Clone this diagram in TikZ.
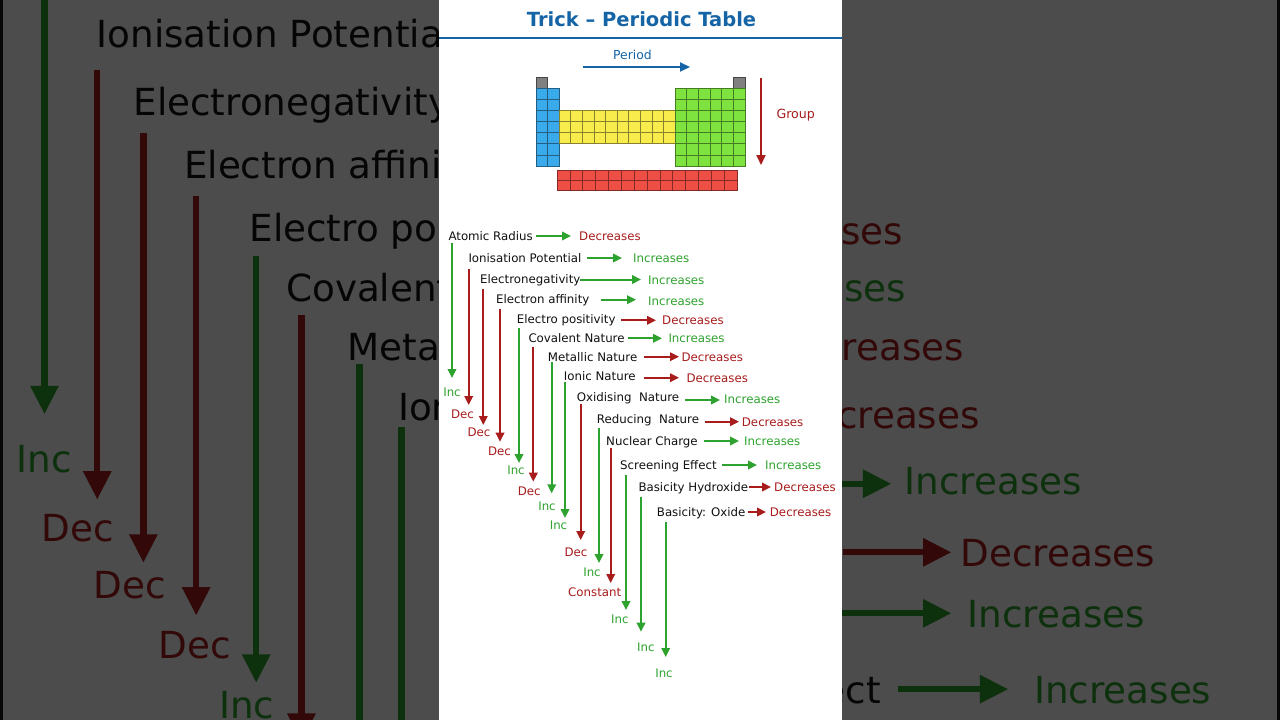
\documentclass[tikz,border=0pt]{standalone}
\usepackage{fontspec}
\setmainfont{DejaVu Sans}
\usetikzlibrary{arrows.meta}
\definecolor{tgreen}{HTML}{2EA22E}
\definecolor{tred}{HTML}{A81C1C}
\definecolor{tblue}{HTML}{1565A6}
\definecolor{tink}{HTML}{111111}
\definecolor{cblue}{HTML}{3AAAEC}
\definecolor{cyellow}{HTML}{F8EC4C}
\definecolor{cgreen}{HTML}{7EE33F}
\definecolor{cred}{HTML}{EE4F45}
\definecolor{cgray}{HTML}{808080}
\def\lsc{1}
\tikzset{
  ptxt/.style={anchor=base west, inner sep=0pt, text=tink, font=\fontsize{11.8}{14}\selectfont},
  rtxt/.style={anchor=base west, inner sep=0pt, text=#1, font=\fontsize{11.8}{14}\selectfont},
  ltxt/.style={anchor=base, inner sep=0pt, text=#1, font=\fontsize{11.8}{14}\selectfont},
  harr/.style={draw=#1, line width=\lsc*2pt, -{Triangle[length=9pt,width=8.5pt,scale=\lsc]}},
  cellbox/.style={draw=#1!55!black, fill=#1, line width=0.6pt},
  bigarr/.style={draw=#1, line width=2pt, -{Triangle[length=10pt,width=9pt]}}
}
\newcommand\pprop[4]{\node[ptxt] (p#1) at (#2,#3+4.4) {#4};}
\newcommand\pres[9]{%
  \coordinate (hs#1) at (#3,#5);
  \coordinate (he#1) at (#4,#5);
  \draw[harr=#2] (hs#1) -- (he#1);
  \node[rtxt=#6] (r#1) at (#7,#8+4.4) {#9};}
\newcommand\pvert[8]{%
  \coordinate (vs#1) at (#3,#4);
  \coordinate (ve#1) at (#3,#5);
  \draw[harr=#2] (vs#1) -- (ve#1);
  \node[ltxt=#2] (l#1) at (#6,#7+4.4) {#8};}
\newcommand\cells[7]{%
  \foreach \i in {1,...,#3} {\foreach \j in {1,...,#4} {%
    \draw[cellbox=#7] ({#1+(\i-1)*#5},{#2+(\j-1)*#6}) rectangle ++(#5,#6);}}}
\newcommand\listcontent{%
\pprop{1}{448.3}{236}{Atomic Radius}
\pres{1}{tgreen}{536}{571}{236}{tred}{579}{236}{Decreases}
\pvert{1}{tgreen}{452}{243}{378}{452}{392}{Inc}
\pprop{2}{468.3}{257.7}{Ionisation Potential}
\pres{2}{tgreen}{587}{622}{258}{tgreen}{633}{258}{Increases}
\pvert{2}{tred}{468.7}{269}{405}{462.5}{414}{Dec}
\pprop{3}{480}{279}{Electronegativity}
\pres{3}{tgreen}{580}{641}{279.5}{tgreen}{648}{280.5}{Increases}
\pvert{3}{tred}{483.3}{289}{425}{479}{432}{Dec}
\pprop{4}{496}{299}{Electron affinity}
\pres{4}{tgreen}{601}{636}{299.7}{tgreen}{648}{301}{Increases}
\pvert{4}{tred}{500}{309}{441.7}{499.5}{451}{Dec}
\pprop{5}{516.7}{319}{Electro positivity}
\pres{5}{tred}{621}{656}{320.3}{tred}{662}{320}{Decreases}
\pvert{5}{tgreen}{519}{328}{463}{516}{470}{Inc}
\pprop{6}{528.3}{338}{Covalent Nature}
\pres{6}{tgreen}{628}{662}{338.3}{tgreen}{668.3}{338}{Increases}
\pvert{6}{tred}{533.3}{346.7}{481.7}{529.3}{491}{Dec}
\pprop{7}{547.7}{356.7}{Metallic Nature}
\pres{7}{tred}{644}{679}{356.7}{tred}{681.3}{356.7}{Decreases}
\pvert{7}{tgreen}{551.7}{362}{493.3}{547}{506}{Inc}
\pprop{8}{563.7}{375.7}{Ionic Nature}
\pres{8}{tred}{644}{679}{377.7}{tred}{686.3}{378}{Decreases}
\pvert{8}{tgreen}{565}{382}{518}{558.5}{525}{Inc}
\pprop{9}{576.7}{397.3}{Oxidising\ \ Nature}
\pres{9}{tgreen}{685}{720}{400}{tgreen}{724}{399}{Increases}
\pvert{9}{tred}{580.7}{404}{540}{576}{551.7}{Dec}
\pprop{10}{596.7}{419}{Reducing\ \ Nature}
\pres{10}{tred}{704.7}{739}{421.7}{tred}{741.7}{421.7}{Decreases}
\pvert{10}{tgreen}{599}{428}{563}{592}{571.7}{Inc}
\pprop{11}{606}{441}{Nuclear Charge}
\pres{11}{tgreen}{704}{739}{441}{tgreen}{744}{441}{Increases}
\pvert{11}{tred}{610.7}{448}{583}{594.7}{592}{Constant}
\pprop{12}{620}{465}{Screening Effect}
\pres{12}{tgreen}{722}{757}{465}{tgreen}{765}{465}{Increases}
\pvert{12}{tgreen}{626}{475}{610}{619.8}{619}{Inc}
\pprop{13}{638.3}{487}{Basicity Hydroxide}
\pres{13}{tred}{749}{771}{487}{tred}{774}{487}{Decreases}
\pvert{13}{tgreen}{641}{496.7}{631.7}{645.8}{646.7}{Inc}
\pprop{14}{656.7}{512}{Basicity: Oxide}
\pres{14}{tred}{748}{766}{512}{tred}{769.7}{512}{Decreases}
\pvert{14}{tgreen}{665.7}{521.7}{657}{664}{672.7}{Inc}
}
\begin{document}
\begin{tikzpicture}[x=1pt,y=-1pt]
\useasboundingbox (0,0) rectangle (1280,720);
% blurred, darkened background copy
\begin{scope}
  \clip (0,0) rectangle (1280,720);
  \fill[black!90] (0,0) rectangle (1280,720);
  \begin{scope}[shift={(-1383.9,-780.3)}, scale=3.16, every node/.append style={transform shape}]
    \def\lsc{3.16}
    \fill[white] (439,0) rectangle (842,720);
    \listcontent
  \end{scope}
  \fill[black, opacity=0.7] (0,0) rectangle (1280,720);
\end{scope}
% main panel
\fill[white] (439,0) rectangle (842,720);
\node[anchor=base, inner sep=0pt, text=tblue, font=\bfseries\fontsize{19.5}{22}\selectfont] (title) at (641.5,26.7) {Trick – Periodic Table};
\coordinate (rl) at (439,38);
\coordinate (rr) at (842,38);
\draw[tblue, line width=1.5pt] (rl) -- (rr);
% periodic table
\cells{536}{77}{1}{1}{11.5}{11}{cgray}
\cells{733.3}{77}{1}{1}{11.667}{11}{cgray}
\cells{536}{88}{2}{7}{11.5}{11.143}{cblue}
\cells{559}{110.29}{10}{3}{11.6}{11.143}{cyellow}
\cells{675}{88}{6}{7}{11.667}{11.143}{cgreen}
\cells{557}{170}{14}{2}{12.857}{10}{cred}
\node[anchor=base, inner sep=0pt, text=tblue, font=\fontsize{12.4}{15}\selectfont] (period) at (632.5,59) {Period};
\coordinate (pa1) at (583,67);
\coordinate (pa2) at (690,67);
\draw[bigarr=tblue] (pa1) -- (pa2);
\node[anchor=base, inner sep=0pt, text=tred, font=\fontsize{12.6}{15}\selectfont] (group) at (795.7,118.3) {Group};
\coordinate (ga1) at (761,78);
\coordinate (ga2) at (761,165);
\draw[bigarr=tred] (ga1) -- (ga2);
\listcontent
\end{tikzpicture}
\end{document}
